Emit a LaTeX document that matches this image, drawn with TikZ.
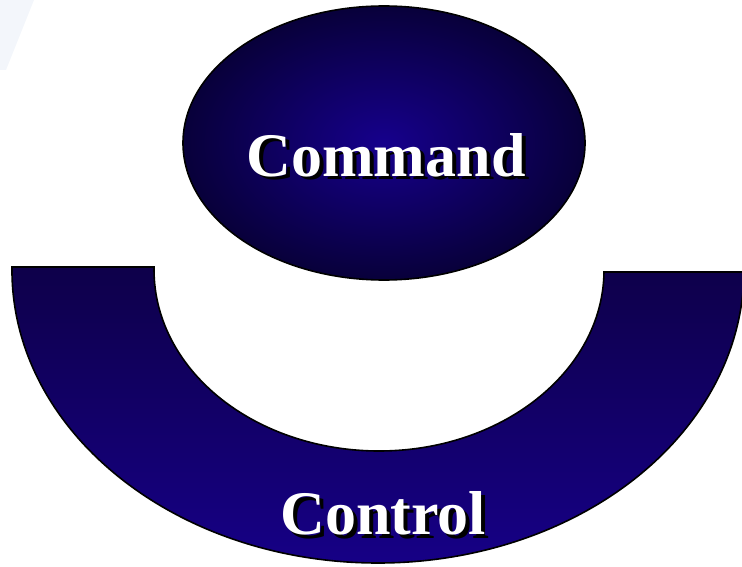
\documentclass[tikz,border=0pt]{standalone}
\usepackage{fontspec}
\setmainfont{Liberation Serif}
\begin{document}
\begin{tikzpicture}[x=1pt,y=-1pt,
  labeltext/.style={font=\fontsize{62}{62}\selectfont\bfseries, anchor=base, inner sep=0pt},
  shadowtext/.style={labeltext, text=black},
  fronttext/.style={labeltext, text=white},
  outline/.style={draw=black, line width=1.6pt}]
\definecolor{bandtop}{RGB}{14,0,74}
\definecolor{bandbot}{RGB}{22,0,134}
\definecolor{ellin}{RGB}{22,0,140}
\definecolor{ellout}{RGB}{8,0,58}
\definecolor{streak}{RGB}{243,246,251}
\useasboundingbox (0,0) rectangle (742,567);
% faint streak top-left
\fill[streak] (0,0) -- (34,0) -- (6,70) -- (0,70) -- cycle;
% command ellipse
\shade[inner color=ellin, outer color=ellout] (384,143) ellipse [x radius=201, y radius=137];
\draw[outline] (384,143) ellipse [x radius=201, y radius=137];
% control band (elliptic block arc)
\shade[top color=bandtop, bottom color=bandbot, outline]
  (12,267) arc[start angle=180.59, end angle=0.39, x radius=366, y radius=293]
  -- (604,272) arc[start angle=0.63, end angle=180.95, x radius=225, y radius=181]
  -- cycle;
% labels
\node[shadowtext] (cmdshadow) at (390,180) {Command};
\node[fronttext] (cmd) at (386,176) {Command};
\node[shadowtext] (ctlshadow) at (387,538) {Control};
\node[fronttext] (ctl) at (383,534) {Control};
\end{tikzpicture}
\end{document}
